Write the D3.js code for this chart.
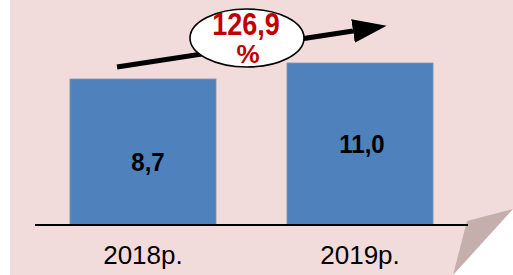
<!DOCTYPE html>
<html>
<head>
<meta charset="utf-8">
<script src="https://cdn.jsdelivr.net/npm/d3@7"></script>
<style>
  html, body { margin: 0; padding: 0; background: #ffffff; }
  svg { display: block; font-family: "Liberation Sans", Arial, sans-serif; }
</style>
</head>
<body>
<div id="chart"></div>
<script>
// data
var years = ["2018р.", "2019р."];
var values = [8.7, 11.0];
var growth = ["126,9", "%"];

var W = 513, H = 275;
var baseY = 225;

// ukrainian style number format: comma decimal
var ua = d3.formatLocale({decimal: ",", thousands: " ", grouping: [3], currency: ["", ""]});
var fmt = ua.format(".1f");

var svg = d3.select("#chart").append("svg")
  .attr("width", W)
  .attr("height", H);

// slide background with curled corner
svg.append("path")
  .attr("d", "M10,0 L513,0 L513,209 L453,275 L10,275 Z")
  .attr("fill", "#f2dcdb");
svg.append("path")
  .attr("d", "M513,209 L467,221 L453,275 Z")
  .attr("fill", "#c4afad");

var x = d3.scaleBand()
  .domain(years)
  .range([35, 468])
  .paddingInner(0.327)
  .paddingOuter(0.161);

// value axis does not start at zero in the original
var y = d3.scaleLinear()
  .domain([-12.3, 11])
  .range([baseY, 63]);

svg.selectAll(".bar")
  .data(values)
  .enter().append("rect")
  .attr("class", "bar")
  .attr("x", function(d, i) { return x(years[i]); })
  .attr("y", function(d) { return y(d); })
  .attr("width", x.bandwidth())
  .attr("height", function(d) { return baseY - y(d); })
  .attr("fill", "#4f81bd")
  .attr("stroke", "#8497b0")
  .attr("stroke-width", 0.8);

// baseline
svg.append("line")
  .attr("x1", 35).attr("x2", 468)
  .attr("y1", baseY).attr("y2", baseY)
  .attr("stroke", "#000")
  .attr("stroke-width", 1.8);

// value labels
svg.selectAll(".val")
  .data(values)
  .enter().append("text")
  .attr("class", "val")
  .attr("transform", function(d, i) {
    var tx = x(years[i]) + x.bandwidth() / 2 + (i === 0 ? 5 : 2);
    var ty = y(d) + (i === 0 ? 92 : 90);
    return "translate(" + tx + "," + ty + ") scale(1,1.08)";
  })
  .attr("text-anchor", "middle")
  .style("font-size", "24px")
  .style("font-weight", "bold")
  .attr("fill", "#000")
  .text(function(d) { return fmt(d); });

// category labels
svg.selectAll(".cat")
  .data(years)
  .enter().append("text")
  .attr("class", "cat")
  .attr("x", function(d) { return x(d) + x.bandwidth() / 2; })
  .attr("y", 264)
  .attr("text-anchor", "middle")
  .style("font-size", "26px")
  .attr("fill", "#000")
  .text(function(d) { return d; });

// growth arrow
svg.append("defs").append("marker")
  .attr("id", "head")
  .attr("viewBox", "0 0 34 24")
  .attr("refX", 0).attr("refY", 12)
  .attr("markerUnits", "userSpaceOnUse")
  .attr("markerWidth", 34).attr("markerHeight", 24)
  .attr("orient", "auto")
  .append("path")
  .attr("d", "M0,0 L34,12 L0,24 Z")
  .attr("fill", "#000");

svg.append("line")
  .attr("x1", 117).attr("y1", 67)
  .attr("x2", 353).attr("y2", 31)
  .attr("stroke", "#000")
  .attr("stroke-width", 5)
  .attr("marker-end", "url(#head)");

svg.append("ellipse")
  .attr("cx", 247).attr("cy", 38)
  .attr("rx", 57).attr("ry", 29)
  .attr("fill", "#fff")
  .attr("stroke", "#000")
  .attr("stroke-width", 1.6);

svg.selectAll(".growth")
  .data(growth)
  .enter().append("text")
  .attr("class", "growth")
  .attr("transform", function(d, i) {
    return "translate(" + (i === 0 ? 246 : 248) + "," + (i === 0 ? 35 : 63) + ") scale(1," + (i === 0 ? 1.15 : 1.0) + ")";
  })
  .attr("text-anchor", "middle")
  .style("font-size", function(d, i) { return i === 0 ? "27px" : "26px"; })
  .style("font-weight", "bold")
  .attr("fill", "#c00000")
  .text(function(d) { return d; });
</script>
</body>
</html>
